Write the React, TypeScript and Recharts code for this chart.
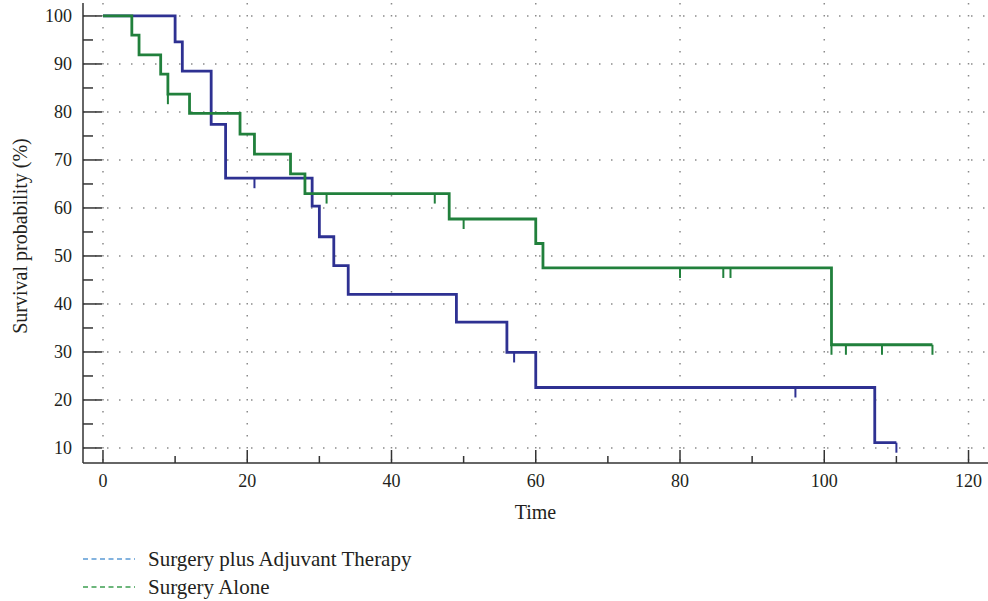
import React from "react";
import { CartesianGrid, ComposedChart, Line, Scatter, XAxis, YAxis } from "recharts";

// Kaplan-Meier steps
const adjuvantTime = [0, 10, 11, 15, 17, 29, 30, 32, 34, 49, 56, 60, 107, 110];
const adjuvantSurv = [100, 94.6, 88.5, 77.4, 66.2, 60.4, 54.0, 48.0, 42.0, 36.2, 29.9, 22.6, 11.1, 11.1];
const adjuvantCensorTime = [21, 57, 96, 110];
const adjuvantCensorSurv = [66.2, 29.9, 22.6, 11.1];

const aloneTime = [0, 4, 5, 8, 9, 12, 19, 21, 26, 28, 48, 60, 61, 101, 115];
const aloneSurv = [100, 96.0, 91.9, 87.9, 83.7, 79.7, 75.4, 71.2, 67.1, 63.0, 57.7, 52.6, 47.5, 31.5, 31.5];
const aloneCensorTime = [9, 31, 46, 50, 80, 86, 87, 101, 103, 108, 115];
const aloneCensorSurv = [83.7, 63.0, 63.0, 57.7, 47.5, 47.5, 47.5, 31.5, 31.5, 31.5, 31.5];

const xMajor = [0, 20, 40, 60, 80, 100, 120];
const xMinor = [10, 30, 50, 70, 90, 110];
const yMajor = [10, 20, 30, 40, 50, 60, 70, 80, 90, 100];
const yMinor = [15, 25, 35, 45, 55, 65, 75, 85, 95];

const seriesNames = ["Surgery plus Adjuvant Therapy", "Surgery Alone"];

const zip = (t: number[], s: number[]) => t.map((v, i) => ({ t: v, s: s[i] }));
const adjuvant = zip(adjuvantTime, adjuvantSurv);
const alone = zip(aloneTime, aloneSurv);
const adjuvantCensor = zip(adjuvantCensorTime, adjuvantCensorSurv);
const aloneCensor = zip(aloneCensorTime, aloneCensorSurv);

const BLUE = "#2e3192";
const GREEN = "#21803c";
const INK = "#231f20";
const AXIS = "#333333";
const FONT = "'Liberation Serif', 'DejaVu Serif', serif";
const MARGIN = 11;

const XTick = (props: any) => {
  const { x, y, payload } = props;
  const major = xMajor.includes(payload.value);
  const axisY = y - MARGIN;
  return (
    <g>
      <line x1={x} x2={x} y1={axisY} y2={axisY - (major ? 13 : 7)} stroke={AXIS} strokeWidth={1.5} />
      {major && (
        <text x={x} y={y} dy="0.71em" textAnchor="middle" fontSize={18} fill={INK} fontFamily={FONT}>
          {payload.value}
        </text>
      )}
    </g>
  );
};

const YTick = (props: any) => {
  const { x, y, payload } = props;
  const major = yMajor.includes(payload.value);
  const axisX = x + MARGIN;
  return (
    <g>
      <line x1={axisX} x2={axisX + (major ? 19 : 10)} y1={y} y2={y} stroke={AXIS} strokeWidth={1.5} />
      {major && (
        <text x={x} y={y} dy="0.355em" textAnchor="end" fontSize={18} fill={INK} fontFamily={FONT}>
          {payload.value}
        </text>
      )}
    </g>
  );
};

const censorShape = (color: string) => (props: any) => {
  const { cx, cy } = props;
  return <line x1={cx} x2={cx} y1={cy} y2={cy + 10} stroke={color} strokeWidth={2} />;
};

const YLabel = (props: any) => {
  const { viewBox } = props;
  const cx = viewBox.x + 27;
  const cy = viewBox.y + viewBox.height / 2 + 3;
  return (
    <text transform={`translate(${cx}, ${cy}) rotate(-90)`} textAnchor="middle" fontSize={20} fill={INK} fontFamily={FONT}>
      Survival probability (%)
    </text>
  );
};

export default function App() {
  return (
    <div style={{ position: "absolute", left: 0, top: 0, width: 988, height: 601, background: "#fff" }}>
      <ComposedChart width={988} height={601} margin={{ top: 3, right: 0, bottom: 0, left: 0 }}>
        <CartesianGrid
          stroke="#8a8a8a"
          strokeWidth={1.5}
          strokeDasharray="1.5 10.5"
          horizontalValues={yMajor}
          verticalValues={xMajor}
        />
        <XAxis
          type="number"
          dataKey="t"
          domain={[-2.77, 122.7]}
          allowDataOverflow
          ticks={[...xMajor, ...xMinor].sort((a, b) => a - b)}
          interval={0}
          tick={<XTick />}
          tickLine={false}
          tickSize={0}
          tickMargin={MARGIN}
          axisLine={{ stroke: AXIS, strokeWidth: 1.5 }}
          height={138}
          label={{ value: "Time", position: "insideTop", offset: 42, fontSize: 20, fill: INK, fontFamily: FONT }}
        />
        <YAxis
          type="number"
          dataKey="s"
          domain={[6.87, 102.7]}
          allowDataOverflow
          ticks={[...yMajor, ...yMinor].sort((a, b) => a - b)}
          interval={0}
          tick={<YTick />}
          tickLine={false}
          tickSize={0}
          tickMargin={MARGIN}
          axisLine={{ stroke: AXIS, strokeWidth: 1.5 }}
          width={83}
          label={{ content: <YLabel /> } as any}
        />
        <Line
          data={adjuvant}
          dataKey="s"
          type="stepAfter"
          stroke={BLUE}
          strokeWidth={2.8}
          dot={false}
          isAnimationActive={false}
        />
        <Line
          data={alone}
          dataKey="s"
          type="stepAfter"
          stroke={GREEN}
          strokeWidth={2.8}
          dot={false}
          isAnimationActive={false}
        />
        <Scatter data={adjuvantCensor} dataKey="s" shape={censorShape(BLUE)} isAnimationActive={false} />
        <Scatter data={aloneCensor} dataKey="s" shape={censorShape(GREEN)} isAnimationActive={false} />
      </ComposedChart>
      <svg width={500} height={60} style={{ position: "absolute", left: 0, top: 540 }}>
        {[seriesNames[0], seriesNames[1]].map((name, i) => (
          <g key={name}>
            <line
              x1={83}
              x2={135}
              y1={19 + i * 28}
              y2={19 + i * 28}
              stroke={i === 0 ? "#5b9bd5" : "#3c9e50"}
              strokeWidth={1.4}
              strokeDasharray="5 3.5"
            />
            <text x={148} y={26 + i * 28} fontSize={21} fill={INK} fontFamily={FONT}>
              {name}
            </text>
          </g>
        ))}
      </svg>
    </div>
  );
}
